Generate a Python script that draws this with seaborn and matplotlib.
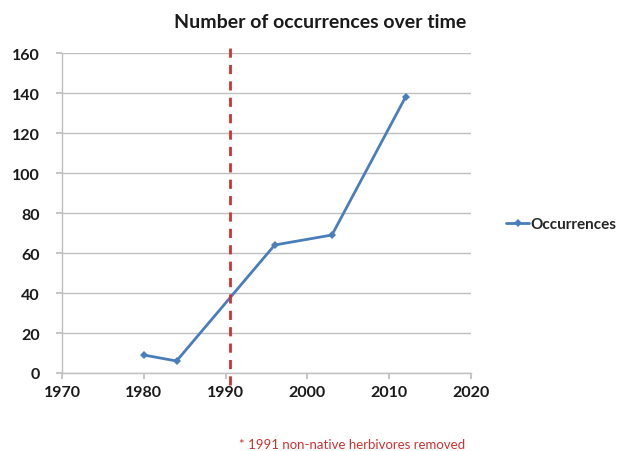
import matplotlib
matplotlib.use("Agg")
import matplotlib.pyplot as plt
import seaborn as sns
import pandas as pd

years = [1980, 1984, 1996, 2003, 2012]
occurrences = [9, 6, 64, 69, 138]
x_ticks = [1970, 1980, 1990, 2000, 2010, 2020]
y_ticks = [0, 20, 40, 60, 80, 100, 120, 140, 160]
removal_year = 1990.5

sns.set_theme(style="white")
plt.rcParams["font.family"] = ["Lato", "DejaVu Sans"]

df = pd.DataFrame({"Year": years, "Occurrences": occurrences})

fig = plt.figure(figsize=(6.22, 4.52), dpi=100)
ax = fig.add_axes([62 / 622, 78 / 452, 409 / 622, 320 / 452])

sns.lineplot(data=df, x="Year", y="Occurrences", ax=ax, color="#4A7EBB",
             linewidth=2.0, marker="D", markersize=4.5, markeredgewidth=0,
             label="Occurrences", zorder=3)

# removal marker line, extending slightly past the plot area
ax.plot([removal_year, removal_year], [-6, 166], color="#CC3333",
        linestyle=(0, (3.3, 2.6)), linewidth=2.0, clip_on=False, zorder=4)

ax.set_xlim(1970, 2020)
ax.set_ylim(0, 160)
ax.set_xticks(x_ticks)
ax.set_yticks(y_ticks)
ax.set_xlabel("")
ax.set_ylabel("")
ax.yaxis.grid(True, color="#BFBFBF", linewidth=1.0)
ax.xaxis.grid(False)
for side in ["top", "right"]:
    ax.spines[side].set_visible(False)
for side in ["left", "bottom"]:
    ax.spines[side].set_color("#BFBFBF")
    ax.spines[side].set_linewidth(1.0)
ax.tick_params(axis="x", bottom=True, length=4, color="#BFBFBF", pad=5,
               labelsize=11.5)
ax.tick_params(axis="y", left=True, length=4, color="#BFBFBF", pad=12,
               labelsize=11.5)
for lbl in ax.get_xticklabels() + ax.get_yticklabels():
    lbl.set_fontweight("bold")
    lbl.set_color("#1A1A1A")

fig.text(320 / 622, 1 - 22 / 452, "Number of occurrences over time",
         ha="center", va="center", fontsize=14, fontweight="bold",
         color="#1A1A1A")

leg = ax.legend(loc="center left", bbox_to_anchor=(500 / 622, 227 / 452),
                bbox_transform=fig.transFigure, frameon=False,
                handlelength=1.5, handletextpad=0.1, borderaxespad=0,
                prop={"weight": "bold", "size": 11})

fig.text(352 / 622, 1 - 445 / 452, "* 1991 non-native herbivores removed",
         ha="center", va="center", fontsize=9.5, color="#CC3333")

fig.savefig("out.png", dpi=100)
